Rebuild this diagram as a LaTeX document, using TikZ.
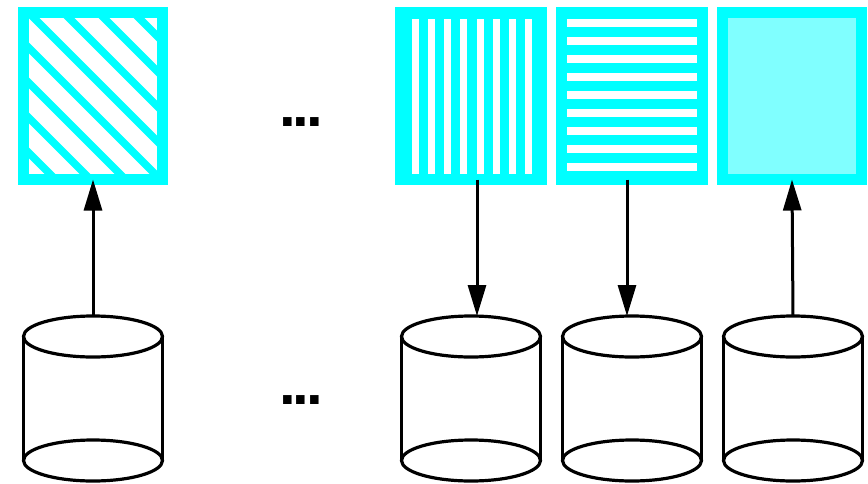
\documentclass[tikz,border=0pt]{standalone}
\usepackage{fontspec}
\newfontfamily\dotfont{Liberation Sans}
\usetikzlibrary{arrows.meta,calc}
\definecolor{cyanc}{HTML}{00FFFF}
\definecolor{lightc}{HTML}{80FFFF}
\begin{document}
\begin{tikzpicture}[x=1pt,y=-1pt,
  box/.style={draw=cyanc, line width=11pt, minimum height=167pt, inner sep=0pt, outer sep=0pt},
  cyl/.style={draw=none, minimum width=139pt, minimum height=165pt, inner sep=0pt, outer sep=0pt},
  cylline/.style={draw=black, line width=3.2pt},
  conn/.style={draw=black, line width=3pt, -{Triangle[length=31pt,width=18pt]}},
  dots/.style={inner sep=0pt, anchor=base, font=\dotfont\bfseries\fontsize{60}{60}\selectfont},
  wstripe/.style={fill=white, draw=none},
  dstripe/.style={draw=cyanc, line width=7.5pt}
]
\useasboundingbox (0,0) rectangle (868,483);

% boxes
\node[box, fill=white, minimum width=139pt] (b1) at (93,96) {};
\node[box, fill=cyanc, minimum width=141pt] (b2) at (471,96) {};
\node[box, fill=cyanc, minimum width=141pt] (b3) at (632,96) {};
\node[box, fill=lightc, minimum width=139pt] (b4) at (792,96) {};

% diagonal hatch in box 1
\begin{scope}
  \clip ($(b1.north west)+(5.5,5.5)$) rectangle ($(b1.south east)+(-5.5,-5.5)$);
  \foreach \c in {-159,-124,-89,-54,-19,16,51,86,121,156}
    \draw[dstripe] (\c,0) -- (\c+200,200);
\end{scope}

% vertical white stripes in box 2
\foreach \k in {0,...,7}
  \fill[wstripe] (411.7+16.2*\k,19) rectangle (418.7+16.2*\k,174);

% horizontal white stripes in box 3
\foreach \k in {0,...,8}
  \fill[wstripe] (567,19.3+18*\k) rectangle (697,27.3+18*\k);

% cylinders
\node[cyl] (c1) at (93,398.5) {};
\node[cyl] (c2) at (471,398.5) {};
\node[cyl] (c3) at (632,398.5) {};
\node[cyl] (c4) at (793,398.5) {};
\foreach \n in {c1,c2,c3,c4}{
  \draw[cylline] ($(\n.north)+(0,20.5)$) ellipse [x radius=69.5, y radius=20.5];
  \draw[cylline] ($(\n.south)+(0,-20.5)$) ellipse [x radius=69.5, y radius=20.5];
  \draw[cylline] ($(\n.north west)+(0,20.5)$) -- ($(\n.south west)+(0,-20.5)$);
  \draw[cylline] ($(\n.north east)+(0,20.5)$) -- ($(\n.south east)+(0,-20.5)$);
}

% connectors
\draw[conn] (c1.north) -- (b1.south);
\draw[conn] ([xshift=6pt]b2.south) -- ([xshift=6pt]c2.north);
\draw[conn] ([xshift=-5pt]b3.south) -- ([xshift=-5pt]c3.north);
\draw[conn] (c4.north) -- (b4.south);

% ellipses
\node[dots] (d1) at (301,126) {.\kern-3.2pt.\kern-3.2pt.};
\node[dots] (d2) at (301,404.7) {.\kern-3.2pt.\kern-3.2pt.};
\end{tikzpicture}
\end{document}
